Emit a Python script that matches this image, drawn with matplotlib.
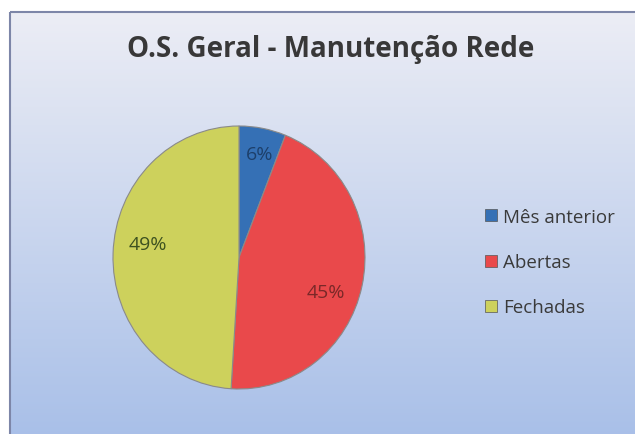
import numpy as np
import matplotlib
matplotlib.use('Agg')
import matplotlib.pyplot as plt
from matplotlib.lines import Line2D
from matplotlib.patches import Rectangle

# Data
categories = ['Mês anterior', 'Abertas', 'Fechadas']
values = [6, 45, 49]
colors = ['#3570b5', '#e9494b', '#cdd15c']
label_colors = ['#1d3f6a', '#7a2828', '#3e5220']
title = 'O.S. Geral - Manutenção Rede'

W, H = 635, 435
FONT = ['Open Sans', 'DejaVu Sans']


def main():
    fig = plt.figure(figsize=(W / 100, H / 100), dpi=100)
    fig.patch.set_facecolor('white')

    # Background gradient panel (chart area)
    bg = fig.add_axes([0, 0, 1, 1])
    bg.set_xlim(0, W)
    bg.set_ylim(H, 0)
    bg.axis('off')
    top = np.array([0.925, 0.93, 0.96])
    bottom = np.array([0.66, 0.75, 0.91])
    t = np.linspace(0, 1, 256)[:, None]
    grad = (1 - t) * top + t * bottom
    grad = np.repeat(grad[:, None, :], 2, axis=1)
    bg.imshow(grad, extent=[10, W + 5, H + 5, 13], aspect='auto', zorder=0)
    bg.add_patch(Rectangle((10, 13), W, H, fill=False, edgecolor='#7d86a8',
                           linewidth=1.5, zorder=1))

    fig.text(331 / W, 1 - 49 / H, title, ha='center', va='center',
             fontsize=20, fontweight='bold', color='#383838', family=FONT)

    # Pie (scan is slightly taller than wide)
    cx, cy, rx, ry = 239, 258.5, 126, 131.5
    ax = fig.add_axes([(cx - rx) / W, (H - cy - ry) / H, 2 * rx / W, 2 * ry / H])
    wedges, texts, autotexts = ax.pie(
        values, colors=colors, startangle=90, counterclock=False,
        autopct='%1.0f%%', pctdistance=0.76,
        wedgeprops=dict(edgecolor='#8a8a8a', linewidth=0.8),
        textprops=dict(fontsize=14, family=FONT))
    # Excel-style "best fit" nudges
    nudges = [(0.02, 0.04), (-0.055, -0.095), (0.035, 0.08)]
    for at, c, (dx, dy) in zip(autotexts, label_colors, nudges):
        at.set_color(c)
        x, y = at.get_position()
        at.set_position((x + dx, y + dy))
    ax.set_xlim(-1, 1)
    ax.set_ylim(-1, 1)
    ax.set_aspect('auto')

    # Legend
    handles = [Line2D([0], [0], marker='s', linestyle='none', markersize=9,
                      markerfacecolor=c, markeredgecolor='#555555',
                      markeredgewidth=0.5) for c in colors]
    fig.legend(handles, categories, loc='upper left',
               bbox_to_anchor=(468 / W, 1 - 192 / H), frameon=False,
               handlelength=0.7, handletextpad=0.25, labelspacing=1.45,
               prop=dict(size=13.5, family=FONT),
               labelcolor='#3a3a3a')

    fig.savefig('out.png', dpi=100)


if __name__ == '__main__':
    main()
